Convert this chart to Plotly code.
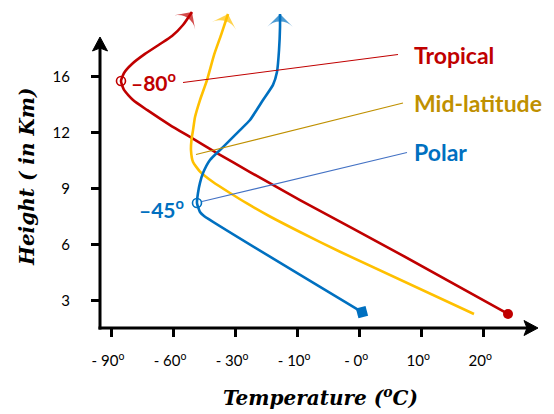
import plotly.graph_objects as go

# x values are positions on the (evenly spaced) temperature axis: 0 = "-90º", 1 = "-60º", ..., 6 = "20º"
# y values are positions on the height axis (label "16" sits at position 15)
x_tick_pos = [0, 1, 2, 3, 4, 5, 6]
x_tick_labels = ["- 90<sup>o</sup>", "- 60<sup>o</sup>", "- 30<sup>o</sup>", "- 10<sup>o</sup>",
                 "- 0<sup>o</sup>", "10<sup>o</sup>", "20<sup>o</sup>"]
y_tick_pos = [3, 6, 9, 12, 15]
y_tick_labels = ["3", "6", "9", "12", "16"]

tropical_x = [6.398, 4.658, 3.046, 2.240, 1.708, 1.273, 0.951, 0.580, 0.355, 0.210, 0.161,
              0.210, 0.338, 0.548, 0.790, 0.983, 1.160, 1.305]
tropical_h = [2.29, 5.50, 8.39, 9.89, 10.91, 11.77, 12.41, 13.22, 13.75, 14.29, 14.77,
              15.20, 15.68, 16.22, 16.75, 17.18, 17.77, 18.47]

midlat_x = [5.850, 3.691, 3.046, 2.562, 2.192, 1.918, 1.644, 1.434, 1.322, 1.289,
            1.297, 1.322, 1.354, 1.434, 1.547, 1.660, 1.773, 1.886]
midlat_h = [2.29, 5.62, 6.68, 7.51, 8.21, 8.77, 9.36, 9.92, 10.43, 11.07,
            11.61, 12.14, 12.84, 13.75, 14.82, 16.16, 17.23, 18.36]

polar_x = [4.045, 1.499, 1.434, 1.386, 1.402, 1.434, 1.483, 1.595, 1.805, 2.079, 2.240,
           2.450, 2.611, 2.675, 2.708, 2.724, 2.724]
polar_h = [2.39, 7.54, 7.75, 8.23, 8.77, 9.31, 9.84, 10.54, 11.23, 12.14, 12.68,
           13.75, 14.56, 15.25, 16.43, 17.66, 18.36]

tropical_min = (0.161, 14.77, "–80<sup>o</sup>")
polar_min = (1.386, 8.23, "–45<sup>o</sup>")

RED = "#c00000"
YEL = "#ffc000"
BLUE = "#0070c0"
GOLD = "#bf9000"
LW = 2.6

fig = go.Figure()


def curve(xs, hs, color):
    n = len(xs)
    fig.add_trace(go.Scatter(
        x=xs, y=hs, mode="lines+markers",
        line=dict(color=color, width=LW, shape="spline", smoothing=0.5),
        marker=dict(symbol=["circle"] * (n - 1) + ["arrow-wide"],
                    size=[0] * (n - 1) + [18], color=color,
                    angleref="previous", line=dict(width=0)),
        hoverinfo="skip", showlegend=False))


curve(tropical_x, tropical_h, RED)
curve(midlat_x, midlat_h, YEL)
curve(polar_x, polar_h, BLUE)

# surface end markers
fig.add_trace(go.Scatter(x=[tropical_x[0]], y=[tropical_h[0]], mode="markers",
                         marker=dict(symbol="circle", size=10, color=RED),
                         hoverinfo="skip", showlegend=False))
fig.add_trace(go.Scatter(x=[polar_x[0]], y=[polar_h[0]], mode="markers",
                         marker=dict(symbol="square", size=10, color=BLUE, angle=-15),
                         hoverinfo="skip", showlegend=False))
# minimum-temperature open circles
fig.add_trace(go.Scatter(x=[tropical_min[0]], y=[tropical_min[1]], mode="markers",
                         marker=dict(symbol="circle-open", size=9, color=RED, line=dict(width=1.6)),
                         hoverinfo="skip", showlegend=False))
fig.add_trace(go.Scatter(x=[polar_min[0]], y=[polar_min[1]], mode="markers",
                         marker=dict(symbol="circle-open", size=9, color=BLUE, line=dict(width=1.6)),
                         hoverinfo="skip", showlegend=False))

# pixel-to-paper helpers for the decorations
L, T, R, B = 100, 5, 9, 86
W, H = 554, 414
PW, PH = W - L - R, H - T - B


def px(x):
    return (x - L) / PW


def py(y):
    return (H - B - y) / PH


shapes = []
# axis lines
shapes.append(dict(type="line", xref="paper", yref="paper", x0=px(100), y0=py(329.5),
                   x1=px(100), y1=py(48), line=dict(color="black", width=3)))
shapes.append(dict(type="line", xref="paper", yref="paper", x0=px(98.5), y0=py(328),
                   x1=px(527), y1=py(328), line=dict(color="black", width=3)))
# arrow heads
shapes.append(dict(type="path", xref="paper", yref="paper",
                   path=f"M{px(100)},{py(37)} L{px(107.5)},{py(51)} L{px(100)},{py(48)} L{px(92.5)},{py(51)} Z",
                   fillcolor="black", line=dict(color="black", width=1)))
shapes.append(dict(type="path", xref="paper", yref="paper",
                   path=f"M{px(538)},{py(328)} L{px(524)},{py(335.5)} L{px(527)},{py(328)} L{px(524)},{py(320.5)} Z",
                   fillcolor="black", line=dict(color="black", width=1)))
# leader lines
shapes.append(dict(type="line", xref="paper", yref="paper", x0=px(183), y0=py(82.5),
                   x1=px(398), y1=py(54.5), line=dict(color=RED, width=1.1)))
shapes.append(dict(type="line", xref="paper", yref="paper", x0=px(196), y0=py(154.5),
                   x1=px(403), y1=py(103), line=dict(color=GOLD, width=1.1)))
shapes.append(dict(type="line", xref="paper", yref="paper", x0=px(202), y0=py(201.5),
                   x1=px(407), y1=py(152.5), line=dict(color="#4472c4", width=1.1)))

LBL_FONT = "Lato, 'Open Sans', sans-serif"
LBL_SIZE = 23
ann = []
ann.append(dict(text="<b>Tropical</b>", x=px(412), y=py(55), xref="paper", yref="paper",
                xanchor="left", yanchor="middle", showarrow=False,
                font=dict(family=LBL_FONT, size=LBL_SIZE, color=RED)))
ann.append(dict(text="<b>Mid-latitude</b>", x=px(412), y=py(103.5), xref="paper", yref="paper",
                xanchor="left", yanchor="middle", showarrow=False,
                font=dict(family=LBL_FONT, size=LBL_SIZE, color=GOLD)))
ann.append(dict(text="<b>Polar</b>", x=px(412), y=py(152), xref="paper", yref="paper",
                xanchor="left", yanchor="middle", showarrow=False,
                font=dict(family=LBL_FONT, size=LBL_SIZE, color=BLUE)))
ann.append(dict(text="<b>" + tropical_min[2] + "</b>", x=px(129), y=py(81), xref="paper", yref="paper",
                xanchor="left", yanchor="middle", showarrow=False,
                font=dict(family=LBL_FONT, size=21, color=RED)))
ann.append(dict(text="<b>" + polar_min[2] + "</b>", x=px(186), y=py(208.5), xref="paper", yref="paper",
                xanchor="right", yanchor="middle", showarrow=False,
                font=dict(family=LBL_FONT, size=21, color=BLUE)))
# axis titles
TITLE_FONT = "'DejaVu Serif', 'Liberation Serif', serif"
ann.append(dict(text="<b><i>Height ( in Km)</i></b>", x=px(27), y=py(177), xref="paper", yref="paper",
                xanchor="center", yanchor="middle", textangle=-90, showarrow=False,
                font=dict(family=TITLE_FONT, size=20, color="black")))
ann.append(dict(text="<b><i>Temperature (<sup>o</sup>C)</i></b>", x=px(320), y=py(397), xref="paper",
                yref="paper", xanchor="center", yanchor="middle", showarrow=False,
                font=dict(family=TITLE_FONT, size=20, color="black")))

TICK_FONT = dict(family="Lato, 'Open Sans', sans-serif", size=15, color="black")
fig.update_layout(
    width=W, height=H,
    margin=dict(l=L, r=R, t=T, b=B),
    paper_bgcolor="white", plot_bgcolor="white",
    shapes=shapes, annotations=ann,
    xaxis=dict(range=[(100 - 111) / 62.05, (W - R - 111) / 62.05], tickvals=x_tick_pos,
               ticktext=x_tick_labels, ticks="outside", ticklen=8, tickwidth=2.5,
               tickcolor="black", showgrid=False, zeroline=False, showline=False,
               tickfont=TICK_FONT, ticklabelstandoff=11, ticklabelshift=-3, fixedrange=True),
    yaxis=dict(range=[3 - (328 - 300.7) * 3 / 56, 3 + (300.7 - T) * 3 / 56], tickvals=y_tick_pos,
               ticktext=y_tick_labels, ticks="outside", ticklen=8, tickwidth=2.5,
               tickcolor="black", showgrid=False, zeroline=False, showline=False,
               tickfont=TICK_FONT, ticklabelstandoff=18, fixedrange=True),
)

fig.write_html("out.html", config={"displayModeBar": False},
               post_script="document.body.style.margin='0';")
